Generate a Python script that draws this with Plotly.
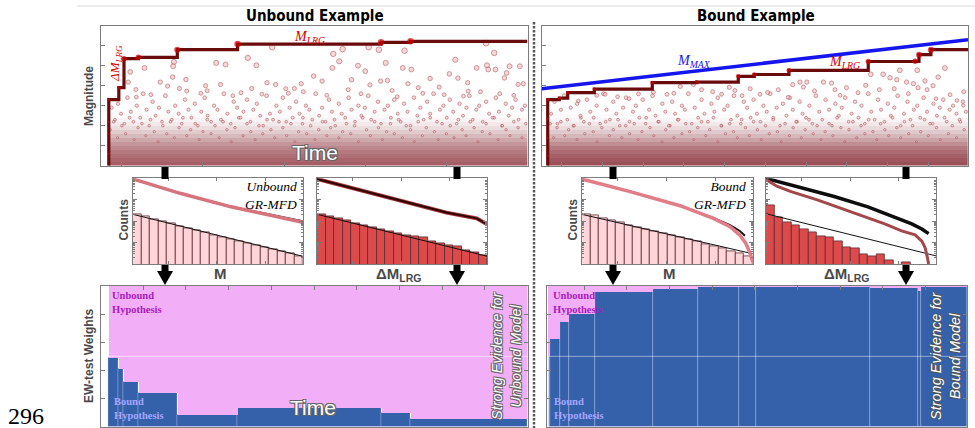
import plotly.graph_objects as go

W, H = 975, 428

# ---------------- catalogue data (time in % of catalogue span, magnitude) ----------------
# Unbound example: record-breaking (largest-so-far) events
unb_rec_t = [1.94, 1.94, 1.94, 1.94, 4.29, 5.5, 8.88, 17.99, 32.1, 65.7, 72.6]
unb_rec_m = [2.6, 3.6, 4.2, 5.3, 5.9, 7.35, 7.42, 7.8, 8.08, 8.17, 8.22]

# Bound example: record-breaking events and the rising magnitude bound
bnd_rec_t = [1.41, 1.41, 1.41, 1.41, 4.13, 6.1, 12.34, 25.94, 36.36, 46.12, 49.87, 58.0, 76.6, 87.6, 88.5, 91.3]
bnd_rec_m = [2.5, 3.4, 4.35, 5.3, 5.38, 5.65, 5.83, 6.15, 6.18, 6.47, 6.56, 6.77, 7.21, 7.22, 7.55, 7.8]
bnd_mmax_t = [0, 100]
bnd_mmax_m = [5.85, 8.3]

# Larger individual events
unb_big_t = [40.2, 56.7, 54.5, 62.8, 65.2, 71.2, 90.3, 92.2, 27.1, 29.3, 34.5, 36.5, 10.3, 17.2, 17.0, 16.9,
             6.95, 6.5, 8.3, 8.4, 14.0, 20.0, 15.7, 18.5, 20.2, 28.1, 32.9, 35.4, 39.0, 41.0, 43.4, 45.4,
             49.9, 51.9, 54.3, 55.9, 60.3, 62.0, 63.1, 65.6, 66.8, 67.2, 68.3, 70.8, 72.8, 72.0, 74.4, 77.2,
             79.3, 81.7, 83.1, 83.7, 86.0, 86.1, 88.1, 90.5, 90.8, 92.5, 94.6, 95.1, 95.8, 98.2, 97.8, 99.0,
             11.8, 23.5, 25.0, 31.0, 37.8, 44.0, 47.5, 53.0, 58.0, 61.0, 69.5, 75.5, 80.5, 85.0, 89.0, 93.5,
             96.8, 24.6, 47.0, 58.8]
unb_big_m = [7.93, 7.83, 7.59, 7.93, 7.8, 7.75, 8.13, 7.64, 7.14, 7.06, 7.39, 7.02, 6.89, 7.19, 6.97, 6.43,
             6.69, 6.18, 5.81, 5.43, 6.18, 6.31, 5.98, 5.86, 5.73, 6.06, 5.65, 5.86, 6.15, 6.06, 5.85, 5.86,
             6.48, 6.23, 6.89, 7.22, 7.0, 6.73, 6.04, 6.23, 7.14, 6.26, 5.76, 6.89, 6.81, 6.1, 5.9, 6.36,
             5.93, 6.59, 7.3, 6.38, 6.15, 5.73, 6.89, 7.02, 6.81, 6.81, 6.39, 6.64, 6.97, 6.97, 6.06, 6.1,
             5.55, 5.62, 5.75, 5.5, 5.58, 5.62, 5.7, 5.52, 5.8, 5.6, 5.45, 5.62, 5.55, 5.48, 5.7, 5.6,
             5.52, 6.0, 6.1, 6.3]

bnd_big_t = [77.2, 80.1, 81.7, 84.0, 88.1, 85.6, 87.2, 88.3, 90.4, 93.0, 94.6, 89.9, 79.2, 82.7, 60.6, 62.2,
             66.1, 68.0, 68.8, 55.5, 61.4, 48.9, 51.2, 45.3, 42.2, 37.5, 35.6, 32.5, 29.4, 26.2, 22.7, 14.9,
             12.9, 8.6, 97.4, 98.9, 17.8, 20.5, 31.0, 40.1, 47.0, 53.0, 57.8, 64.0, 71.5, 74.2, 76.0, 83.3,
             91.8, 95.8, 99.0, 86.0, 92.5, 70.0, 58.9, 44.0]
bnd_big_m = [6.57, 6.57, 6.4, 6.77, 6.77, 6.18, 6.1, 5.9, 5.8, 6.43, 6.88, 6.24, 5.8, 5.85, 6.18, 6.18,
             6.18, 6.13, 5.8, 5.8, 5.93, 5.85, 5.57, 5.76, 5.57, 5.8, 6.07, 5.96, 5.57, 5.68, 5.59, 5.57,
             5.51, 5.24, 5.26, 5.01, 5.45, 5.35, 5.62, 5.7, 5.5, 5.66, 5.42, 5.74, 5.9, 5.65, 6.02, 6.3,
             6.0, 5.55, 5.7, 5.6, 5.35, 5.52, 6.05, 5.92]

# Intermediate events
unb_mid_t = [2.6, 3.4, 4.1, 4.8, 5.6, 6.3, 7.1, 7.7, 8.5, 9.3, 10.0, 10.8, 11.4, 12.2, 12.9, 13.7, 14.4, 15.2,
             15.9, 16.7, 17.5, 18.3, 19.0, 19.8, 20.6, 21.3, 22.1, 22.8, 23.6, 24.4, 25.1, 25.9, 26.6, 27.4,
             28.2, 28.9, 29.7, 30.5, 31.2, 32.0, 32.8, 33.5, 34.3, 35.1, 35.8, 36.6, 37.4, 38.1, 38.9, 39.7,
             40.4, 41.2, 42.0, 42.7, 43.5, 44.3, 45.0, 45.8, 46.6, 47.3, 48.1, 48.9, 49.6, 50.4, 51.2, 51.9,
             52.7, 53.5, 54.2, 55.0, 55.8, 56.5, 57.3, 58.1, 58.8, 59.6, 60.4, 61.1, 61.9, 62.7, 63.4, 64.2,
             65.0, 65.7, 66.5, 67.3, 68.0, 68.8, 69.6, 70.3, 71.1, 71.9, 72.6, 73.4, 74.2, 74.9, 75.7, 76.5,
             77.2, 78.0, 78.8, 79.5, 80.3, 81.1, 81.8, 82.6, 83.4, 84.1, 84.9, 85.7, 86.4, 87.2, 88.0, 88.7,
             89.5, 90.3, 91.0, 91.8, 92.6, 93.3, 94.1, 94.9, 95.6, 96.4, 97.2, 97.9, 98.7, 99.4]
unb_mid_m = [4.9, 4.3, 5.1, 4.6, 4.1, 5.4, 4.7, 4.2, 5.0, 4.4, 5.6, 4.8, 4.0, 5.2, 4.5, 4.9, 4.2, 5.5,
             4.7, 4.3, 5.0, 4.6, 4.1, 5.3, 4.8, 4.4, 5.1, 4.0, 4.7, 5.4, 4.5, 4.2, 5.0, 4.8, 4.3, 5.6,
             4.6, 4.1, 5.2, 4.9, 4.4, 4.7, 5.3, 4.2, 4.8, 5.1, 4.5, 4.0, 5.5, 4.6, 4.3, 5.0, 4.7, 5.4,
             4.2, 4.9, 4.4, 5.2, 4.6, 4.1, 5.0, 4.8, 4.3, 5.6, 4.5, 4.9, 4.2, 5.3, 4.7, 4.0, 5.1, 4.6,
             4.4, 5.4, 4.8, 4.2, 5.0, 4.5, 4.9, 5.5, 4.3, 4.7, 5.2, 4.1, 4.8, 5.0, 4.4, 5.3, 4.6, 4.2,
             5.1, 4.7, 4.0, 5.4, 4.5, 4.9, 4.3, 5.2, 4.6, 5.6, 4.2, 4.8, 5.0, 4.4, 5.3, 4.7, 4.1, 5.1,
             4.5, 4.9, 5.5, 4.3, 4.8, 5.0, 4.2, 5.2, 4.6, 4.4, 5.4, 4.7, 4.0, 5.1, 4.5, 4.9, 5.3, 4.3,
             4.8, 5.0]

bnd_mid_t = [2.2, 3.0, 3.7, 4.5, 5.3, 6.0, 6.8, 7.6, 8.3, 9.1, 9.9, 10.6, 11.4, 12.2, 12.9, 13.7, 14.5, 15.2,
             16.0, 16.8, 17.5, 18.3, 19.1, 19.8, 20.6, 21.4, 22.1, 22.9, 23.7, 24.4, 25.2, 26.0, 26.7, 27.5,
             28.3, 29.0, 29.8, 30.6, 31.3, 32.1, 32.9, 33.6, 34.4, 35.2, 35.9, 36.7, 37.5, 38.2, 39.0, 39.8,
             40.5, 41.3, 42.1, 42.8, 43.6, 44.4, 45.1, 45.9, 46.7, 47.4, 48.2, 49.0, 49.7, 50.5, 51.3, 52.0,
             52.8, 53.6, 54.3, 55.1, 55.9, 56.6, 57.4, 58.2, 58.9, 59.7, 60.5, 61.2, 62.0, 62.8, 63.5, 64.3,
             65.1, 65.8, 66.6, 67.4, 68.1, 68.9, 69.7, 70.4, 71.2, 72.0, 72.7, 73.5, 74.3, 75.0, 75.8, 76.6,
             77.3, 78.1, 78.9, 79.6, 80.4, 81.2, 81.9, 82.7, 83.5, 84.2, 85.0, 85.8, 86.5, 87.3, 88.1, 88.8,
             89.6, 90.4, 91.1, 91.9, 92.7, 93.4, 94.2, 95.0, 95.7, 96.5, 97.3, 98.0, 98.8, 99.5]
bnd_mid_m = [4.6, 5.2, 4.1, 4.8, 5.5, 4.3, 4.9, 4.0, 5.1, 4.5, 4.2, 5.3, 4.7, 4.4, 5.0, 4.1, 5.6, 4.8,
             4.3, 5.2, 4.6, 4.0, 4.9, 5.4, 4.2, 4.7, 5.0, 4.4, 5.3, 4.1, 4.8, 5.5, 4.5, 4.2, 5.1, 4.7,
             4.0, 5.2, 4.6, 4.3, 5.0, 4.8, 5.6, 4.1, 4.9, 4.4, 5.3, 4.6, 4.2, 5.1, 4.7, 5.4, 4.0, 4.8,
             5.0, 4.3, 5.5, 4.5, 4.1, 5.2, 4.9, 4.4, 5.3, 4.6, 4.2, 5.0, 4.7, 5.6, 4.3, 4.9, 4.0, 5.1,
             4.5, 5.4, 4.8, 4.2, 5.2, 4.6, 4.4, 5.0, 4.1, 5.5, 4.7, 4.3, 5.3, 4.8, 4.0, 5.1, 4.5, 4.9,
             5.4, 4.2, 4.6, 5.2, 4.4, 5.0, 4.1, 5.6, 4.7, 4.3, 5.3, 4.8, 4.2, 5.1, 4.5, 4.9, 5.5, 4.0,
             4.6, 5.2, 4.3, 4.8, 5.0, 4.4, 5.4, 4.7, 4.1, 5.1, 4.5, 4.9, 5.3, 4.2, 4.8, 5.0, 4.6, 4.3,
             5.2, 4.7]

# Small events sitting on top of the dense cloud
unb_small_t = [2.3, 3.1, 4.0, 5.0, 5.9, 6.8, 7.9, 8.8, 9.7, 10.6, 11.7, 12.6, 13.5, 14.6, 15.5, 16.4, 17.3,
               18.4, 19.3, 20.2, 21.1, 22.2, 23.1, 24.0, 25.0, 25.9, 26.8, 27.8, 28.7, 29.6, 30.6, 31.5,
               32.4, 33.4, 34.3, 35.2, 36.2, 37.1, 38.0, 39.0, 39.9, 40.8, 41.8, 42.7, 43.6, 44.6, 45.5,
               46.4, 47.4, 48.3, 49.2, 50.2, 51.1, 52.0, 53.0, 53.9, 54.8, 55.8, 56.7, 57.6, 58.6, 59.5,
               60.4, 61.4, 62.3, 63.2, 64.2, 65.1, 66.0, 67.0, 67.9, 68.8, 69.8, 70.7, 71.6, 72.6, 73.5,
               74.4, 75.4, 76.3, 77.2, 78.2, 79.1, 80.0, 81.0, 81.9, 82.8, 83.8, 84.7, 85.6, 86.6, 87.5,
               88.4, 89.4, 90.3, 91.2, 92.2, 93.1, 94.0, 95.0, 95.9, 96.8, 97.8, 98.7, 99.6]
unb_small_m = [3.8, 4.2, 3.4, 4.0, 3.6, 4.4, 3.3, 3.9, 4.1, 3.5, 4.3, 3.7, 3.2, 4.0, 3.6, 4.2, 3.4, 3.9,
               4.4, 3.5, 3.8, 4.1, 3.3, 3.7, 4.3, 3.6, 4.0, 3.4, 4.2, 3.8, 3.2, 3.9, 4.4, 3.5, 4.1, 3.7,
               3.3, 4.0, 3.6, 4.3, 3.8, 3.4, 4.2, 3.9, 3.5, 4.1, 3.2, 3.7, 4.4, 3.6, 4.0, 3.3, 3.8, 4.2,
               3.5, 3.9, 4.3, 3.4, 3.7, 4.1, 3.6, 4.0, 3.2, 4.4, 3.8, 3.5, 4.2, 3.9, 3.3, 3.7, 4.1, 3.6,
               4.3, 3.4, 4.0, 3.8, 3.2, 4.2, 3.5, 3.9, 4.4, 3.7, 3.3, 4.1, 3.6, 4.0, 3.4, 4.3, 3.8, 3.5,
               4.2, 3.9, 3.2, 3.7, 4.1, 3.6, 4.4, 3.3, 4.0, 3.8, 3.5, 4.2, 3.9, 3.4, 4.1]

bnd_small_t = [2.0, 2.8, 3.6, 4.5, 5.4, 6.3, 7.4, 8.3, 9.2, 10.1, 11.2, 12.1, 13.0, 14.1, 15.0, 15.9, 16.8,
               17.9, 18.8, 19.7, 20.6, 21.7, 22.6, 23.5, 24.5, 25.4, 26.3, 27.3, 28.2, 29.1, 30.1, 31.0,
               31.9, 32.9, 33.8, 34.7, 35.7, 36.6, 37.5, 38.5, 39.4, 40.3, 41.3, 42.2, 43.1, 44.1, 45.0,
               45.9, 46.9, 47.8, 48.7, 49.7, 50.6, 51.5, 52.5, 53.4, 54.3, 55.3, 56.2, 57.1, 58.1, 59.0,
               59.9, 60.9, 61.8, 62.7, 63.7, 64.6, 65.5, 66.5, 67.4, 68.3, 69.3, 70.2, 71.1, 72.1, 73.0,
               73.9, 74.9, 75.8, 76.7, 77.7, 78.6, 79.5, 80.5, 81.4, 82.3, 83.3, 84.2, 85.1, 86.1, 87.0,
               87.9, 88.9, 89.8, 90.7, 91.7, 92.6, 93.5, 94.5, 95.4, 96.3, 97.3, 98.2, 99.1]
bnd_small_m = [4.1, 3.4, 3.9, 4.2, 3.5, 3.8, 4.0, 3.3, 4.4, 3.6, 4.1, 3.7, 3.2, 3.9, 4.2, 3.5, 3.8, 4.3,
               3.4, 4.0, 3.6, 4.1, 3.3, 3.7, 4.4, 3.9, 3.5, 4.2, 3.2, 3.8, 4.0, 3.4, 4.3, 3.6, 4.1, 3.7,
               3.3, 3.9, 4.2, 3.5, 3.8, 4.4, 3.2, 4.0, 3.6, 4.1, 3.7, 3.4, 4.3, 3.9, 3.5, 4.2, 3.8, 3.3,
               4.0, 3.6, 4.4, 3.7, 3.2, 4.1, 3.5, 3.9, 4.2, 3.4, 3.8, 4.3, 3.6, 4.0, 3.3, 3.7, 4.1, 3.5,
               4.4, 3.9, 3.2, 3.8, 4.2, 3.4, 4.0, 3.6, 4.3, 3.7, 3.3, 4.1, 3.8, 3.5, 4.4, 3.9, 3.4, 4.2,
               3.6, 4.0, 3.2, 3.7, 4.3, 3.5, 4.1, 3.9, 3.3, 4.4, 3.6, 4.0, 3.4, 4.2, 3.8]

# Density of the dense small-event cloud per magnitude band (fraction of area covered)
cloud_edges = [2.0, 2.2, 2.4, 2.6, 2.8, 3.0, 3.2, 3.4, 3.6, 3.8, 4.0, 4.2, 4.4, 4.6, 4.8, 5.0, 5.2]
unb_cloud = [0.88, 0.86, 0.83, 0.8, 0.76, 0.71, 0.65, 0.58, 0.5, 0.41, 0.32, 0.24, 0.16, 0.1, 0.05, 0.02]
bnd_cloud = [0.92, 0.9, 0.87, 0.84, 0.8, 0.74, 0.67, 0.59, 0.51, 0.42, 0.33, 0.24, 0.16, 0.1, 0.05, 0.02]

# ---------------- frequency-magnitude data (20 bins) ----------------
mfd_bins = [0.5, 1.5, 2.5, 3.5, 4.5, 5.5, 6.5, 7.5, 8.5, 9.5, 10.5, 11.5, 12.5, 13.5, 14.5, 15.5, 16.5, 17.5, 18.5, 19.5]
unb_M_counts = [208, 162, 122, 95, 76, 59, 46, 36, 29, 23, 18, 15, 11.4, 9.2, 7.4, 6.0, 4.8, 3.9, 3.1, 2.4]
unb_dM_counts = [208, 162, 135, 106, 82, 62, 51, 43, 35, 27, 21, 19.6, 17, 11.8, 9.2, 7.7, 6.4, 4.5, 3.5, 2.45]
bnd_M_counts = [208, 178, 136, 106, 88, 66, 53, 42, 34, 28, 22, 17.5, 14, 11, 8.3, 6.8, 5.3, 4.1, 3.1, 2.2]
bnd_dM_counts = [525, 145, 90, 62, 43, 30, 20.5, 17, 11.8, 6.1, 5.6, 2.7, 2.4, 2.7, 1.5, 0, 1.2, 0, 0, 0]

fit_x = [0, 20]
unb_M_fit = [209, 2.3]
unb_dM_fit = [209, 2.3]
bnd_M_fit = [209, 3.0]
bnd_dM_fit = [224, 2.4]

unb_M_cum_x = [0, 5.57, 11.45, 14.98, 17.3, 20]
unb_M_cum_obs = [9330, 1995, 479, 234, 145, 89]
unb_M_cum_gr = [9330, 1995, 479, 245, 170, 100]
unb_dM_cum_x = [0, 7.6, 15.2, 18.75, 20]
unb_dM_cum = [9330, 1549, 251, 135, 71]

bnd_M_cum_x = [0, 5.65, 11.5, 15.4, 17.35, 18.5, 19.2, 19.7, 20]
bnd_M_cum_obs = [9330, 2399, 525, 135, 55, 22.4, 9.1, 3.16, 1.29]
bnd_M_gr_x = [0, 5.65, 11.5, 15.4, 17.35, 18.5, 19.1]
bnd_M_cum_gr = [9330, 2399, 525, 141, 66, 34.7, 20.9]
bnd_dM_gr_x = [0, 4.08, 8.04, 12.0, 15.17, 17.15, 18.34, 19.13]
bnd_dM_cum_gr = [10000, 3548, 1413, 468, 155, 74, 43, 26]
bnd_dM_obs_x = [0, 1.31, 2.89, 6.06, 10.02, 13.98, 15.96, 17.54, 18.34, 18.73, 19.01, 19.13]
bnd_dM_cum_obs = [8913, 4266, 2455, 977, 269, 74, 35, 23, 11.7, 5.6, 1.86, 1.0]

# ---------------- EW-test weights (weight of the bound hypothesis over time) ----------------
unb_w_t = [1.94, 4.29, 5.5, 8.88, 17.99, 32.1, 65.7, 72.6]
unb_w_end = 100
unb_w_bound = [0.49, 0.41, 0.32, 0.24, 0.08, 0.13, 0.10, 0.055]

bnd_w_t = [1.71, 2.11, 4.46, 6.40, 12.67, 26.18, 36.73, 46.35, 50.27, 77.0, 88.34, 89.1]
bnd_w_end = 99.84
bnd_w_bound = [0.5, 0.625, 0.746, 0.80, 0.955, 0.979, 0.995, 0.995, 0.995, 0.986, 0.967, 0.995]


# ---------------- helpers ----------------
def px(x):
    return x / W


def py(y):
    return 1 - y / H


def msize(m):
    return max(1.8, 1.8 + 0.8 * (m - 3))


def rsize(m):
    return max(2.0, min(6.5, 2.5 + 1.3 * (m - 5)))


def step_bars(ts, end):
    edges = ts + [end]
    centers = [(a + b) / 2 for a, b in zip(edges[:-1], edges[1:])]
    widths = [b - a for a, b in zip(edges[:-1], edges[1:])]
    return centers, widths


SANS = "Liberation Sans, Arial, sans-serif"
SERIF = "Liberation Serif, Times New Roman, serif"
NARROW = "Liberation Sans Narrow, DejaVu Sans Condensed, Arial Narrow, sans-serif"
OUTLINE = "1px 1px 0 #666, -1px -1px 0 #666, 1px -1px 0 #666, -1px 1px 0 #666"
PT_FILL = "#f6c5c8"
PT_LINE = "#9c3a42"
CLOUD_SCALE = [[0, "rgba(255,255,255,0)"], [1, "#8a2f38"]]

fig = go.Figure()


# ---------------- top panels: magnitude vs time ----------------
def catalogue(xa, ya, rec_t, rec_m, layers, cloud):
    fig.add_trace(go.Heatmap(x=[rec_t[0], 100], y=cloud_edges, z=[[d] for d in cloud],
                             colorscale=CLOUD_SCALE, zmin=0, zmax=1, showscale=False,
                             hoverinfo="skip", xaxis=xa, yaxis=ya))
    for tt, mm in layers:
        fig.add_trace(go.Scatter(x=tt, y=mm, mode="markers", xaxis=xa, yaxis=ya,
                                 marker=dict(size=[msize(m) for m in mm], color=PT_FILL,
                                             line=dict(color=PT_LINE, width=0.7))))
    fig.add_trace(go.Scatter(x=[rec_t[0]] + rec_t + [100], y=[2.0] + rec_m + [rec_m[-1]],
                             mode="lines", line=dict(color="#6a0b0b", width=3.2, shape="hv"),
                             xaxis=xa, yaxis=ya))
    fig.add_trace(go.Scatter(x=rec_t, y=rec_m, mode="markers", xaxis=xa, yaxis=ya,
                             marker=dict(size=[rsize(m) for m in rec_m], color="#d00000",
                                         line=dict(width=0))))


catalogue("x", "y", unb_rec_t, unb_rec_m,
          [(unb_small_t, unb_small_m), (unb_mid_t, unb_mid_m), (unb_big_t, unb_big_m)], unb_cloud)
catalogue("x2", "y2", bnd_rec_t, bnd_rec_m,
          [(bnd_small_t, bnd_small_m), (bnd_mid_t, bnd_mid_m), (bnd_big_t, bnd_big_m)], bnd_cloud)
fig.add_trace(go.Scatter(x=bnd_mmax_t, y=bnd_mmax_m, mode="lines", line=dict(color="#1515f0", width=3.5),
                         xaxis="x2", yaxis="y2"))


# ---------------- middle panels: frequency-magnitude distributions ----------------
def mfd(xa, ya, counts, fill, fit):
    fig.add_trace(go.Bar(x=mfd_bins, y=counts, width=1, xaxis=xa, yaxis=ya,
                         marker=dict(color=fill, line=dict(color="#5e2a2e", width=0.8))))
    fig.add_trace(go.Scatter(x=fit_x, y=fit, mode="lines", line=dict(color="#111", width=1),
                             xaxis=xa, yaxis=ya))


mfd("x3", "y3", unb_M_counts, "#ffd5d9", unb_M_fit)
fig.add_trace(go.Scatter(x=unb_M_cum_x, y=unb_M_cum_gr, mode="lines", line=dict(color="#1a1a1a", width=2),
                         xaxis="x3", yaxis="y3"))
fig.add_trace(go.Scatter(x=unb_M_cum_x, y=unb_M_cum_obs, mode="lines", line=dict(color="#d6737d", width=3.5),
                         xaxis="x3", yaxis="y3"))

mfd("x4", "y4", unb_dM_counts, "#dc4a4c", unb_dM_fit)
fig.add_trace(go.Scatter(x=unb_dM_cum_x, y=unb_dM_cum, mode="lines", line=dict(color="#a83030", width=4),
                         xaxis="x4", yaxis="y4"))
fig.add_trace(go.Scatter(x=unb_dM_cum_x, y=unb_dM_cum, mode="lines", line=dict(color="#2b0404", width=2),
                         xaxis="x4", yaxis="y4"))

mfd("x5", "y5", bnd_M_counts, "#ffd5d9", bnd_M_fit)
fig.add_trace(go.Scatter(x=bnd_M_gr_x, y=bnd_M_cum_gr, mode="lines", line=dict(color="#1a1a1a", width=2),
                         xaxis="x5", yaxis="y5"))
fig.add_trace(go.Scatter(x=bnd_M_cum_x, y=bnd_M_cum_obs, mode="lines", line=dict(color="#e27d88", width=3.5),
                         xaxis="x5", yaxis="y5"))

mfd("x6", "y6", bnd_dM_counts, "#dc4a4c", bnd_dM_fit)
fig.add_trace(go.Scatter(x=bnd_dM_gr_x, y=bnd_dM_cum_gr, mode="lines", line=dict(color="#0d0d0d", width=3.5),
                         xaxis="x6", yaxis="y6"))
fig.add_trace(go.Scatter(x=bnd_dM_obs_x, y=bnd_dM_cum_obs, mode="lines", line=dict(color="#a3474a", width=3),
                         xaxis="x6", yaxis="y6"))


# ---------------- bottom panels: EW-test weights ----------------
def weights(xa, ya, ts, end, w):
    cx, wd = step_bars(ts, end)
    fig.add_trace(go.Bar(x=cx, y=w, base=0, width=wd, xaxis=xa, yaxis=ya,
                         marker=dict(color="#3461a9", line=dict(color="rgba(200,210,255,0.3)", width=1))))
    fig.add_trace(go.Bar(x=cx, y=[1 - v for v in w], base=w, width=wd, xaxis=xa, yaxis=ya,
                         marker=dict(color="#f3aef8", line=dict(width=0))))


weights("x7", "y7", unb_w_t, unb_w_end, unb_w_bound)
weights("x8", "y8", bnd_w_t, bnd_w_end, bnd_w_bound)

# ---------------- axes ----------------
frame = dict(showgrid=False, zeroline=False, showticklabels=False, showline=True, linecolor="#7d7d7d",
             linewidth=1, ticks="inside", tickcolor="#7d7d7d", tickwidth=1)
top_y = [py(165.7), py(25.7)]
mid_y = [py(264), py(178.3)]
bot_y = [py(426.7), py(286)]
log_minor = [2, 3, 4, 5, 6, 7, 8, 9, 20, 30, 40, 50, 60, 70, 80, 90, 200, 300, 400, 500, 600, 700, 800, 900,
             2000, 3000, 4000, 5000, 6000, 7000, 8000, 9000]


def hist_axes(n, x0, x1):
    return {
        f"xaxis{n}": dict(domain=[px(x0), px(x1)], range=[0, 20], anchor=f"y{n}", tickvals=[4.2, 9.9, 15.6],
                          ticklen=3, mirror="ticks", **frame),
        f"yaxis{n}": dict(domain=mid_y, type="log", range=[0, 4], anchor=f"x{n}", tickvals=[10, 100, 1000],
                          ticklen=4, mirror="ticks",
                          minor=dict(tickmode="array", tickvals=log_minor, ticks="inside", ticklen=2,
                                     tickcolor="#7d7d7d"), **frame),
    }


layout_axes = dict(
    xaxis=dict(domain=[px(100.5), px(527.5)], range=[0, 100], anchor="y", tick0=5, dtick=19, ticklen=4,
               mirror=True, **frame),
    yaxis=dict(domain=top_y, range=[2, 9], anchor="x", tickvals=[3, 4, 5, 6, 7, 8], ticklen=4,
               mirror=True, **frame),
    xaxis2=dict(domain=[px(541.7), px(968)], range=[0, 100], anchor="y2", tick0=4.7, dtick=9.55, ticklen=4,
                mirror=True, **frame),
    yaxis2=dict(domain=top_y, range=[2, 9], anchor="x2", tickvals=[3, 4, 5, 6, 7, 8], ticklen=4,
                mirror=True, **frame),
    xaxis7=dict(domain=[px(100.5), px(527.5)], range=[0, 100], anchor="y7", side="top",
                tickvals=[10, 20, 30, 40, 50, 60, 70, 80, 90], ticklen=4, mirror=True, **frame),
    yaxis7=dict(domain=bot_y, range=[0, 1], anchor="x7", tickvals=[0.2, 0.4, 0.6, 0.8], ticklen=4,
                mirror="ticks", **frame),
    xaxis8=dict(domain=[px(547.3), px(967.3)], range=[1.31, 99.84], anchor="y8", side="top",
                tickvals=[10, 20, 30, 40, 50, 60, 70, 80, 90], ticklen=4, mirror=True, **frame),
    yaxis8=dict(domain=bot_y, range=[0, 1], anchor="x8", tickvals=[0.2, 0.4, 0.6, 0.8], ticklen=4,
                mirror="ticks", **frame),
)
layout_axes.update(hist_axes(3, 132.7, 302.7))
layout_axes.update(hist_axes(4, 317, 487.3))
layout_axes.update(hist_axes(5, 581.7, 752.7))
layout_axes.update(hist_axes(6, 765.7, 936))

# ---------------- shapes: separators and flow arrows ----------------
shapes = [
    dict(type="line", xref="paper", yref="paper", x0=px(77), x1=px(975), y0=py(6), y1=py(6),
         line=dict(color="#ececec", width=2)),
    dict(type="line", xref="paper", yref="paper", x0=px(534), x1=px(534), y0=py(22), y1=py(428),
         line=dict(color="#5a5a5a", width=2.5, dash="2.5px,1.5px")),
    dict(type="line", xref="x7 domain", yref="y7", x0=0, x1=1, y0=0.5, y1=0.5,
         line=dict(color="rgba(255,255,255,0.55)", width=1)),
    dict(type="line", xref="x8 domain", yref="y8", x0=0, x1=1, y0=0.5, y1=0.5,
         line=dict(color="rgba(255,255,255,0.45)", width=1)),
]
for cx in (165, 457, 613, 906):
    shapes.append(dict(type="rect", xref="paper", yref="paper", x0=px(cx - 3.5), x1=px(cx + 3.5),
                       y0=py(179), y1=py(167), fillcolor="#000", line=dict(width=0)))
    shapes.append(dict(type="rect", xref="paper", yref="paper", x0=px(cx - 3.5), x1=px(cx + 3.5),
                       y0=py(272), y1=py(265), fillcolor="#000", line=dict(width=0)))
    shapes.append(dict(type="path", xref="paper", yref="paper",
                       path=f"M {px(cx - 8)} {py(271)} L {px(cx + 8)} {py(271)} L {px(cx)} {py(285)} Z",
                       fillcolor="#000", line=dict(width=0)))


# ---------------- text ----------------
def note(x, y, text, size, color="#000", family=SANS, weight="normal", style="normal", angle=0,
         xanchor="center", align="center", shadow=None):
    f = dict(size=size, color=color, family=family, weight=weight, style=style)
    if shadow:
        f["shadow"] = shadow
    return dict(x=px(x), y=py(y), xref="paper", yref="paper", text=text, showarrow=False, font=f,
                textangle=angle, xanchor=xanchor, yanchor="middle", align=align)


ann = [
    note(315, 16, "Unbound Example", 15, family=NARROW, weight="bold"),
    note(756, 16, "Bound Example", 15, family=NARROW, weight="bold"),
    note(89, 96, "Magnitude", 12, color="#4a4a4a", weight="bold", angle=-90),
    note(123.5, 220, "Counts", 12, color="#4a4a4a", weight="bold", angle=-90),
    note(572.5, 220, "Counts", 12, color="#4a4a4a", weight="bold", angle=-90),
    note(89, 356, "EW-test Weights", 12, color="#4a4a4a", weight="bold", angle=-90),
    note(220, 273, "M", 15, color="#4a4a4a", weight="bold"),
    note(669, 273, "M", 15, color="#4a4a4a", weight="bold"),
    note(398, 274, "ΔM<sub>LRG</sub>", 15, color="#4a4a4a", weight="bold"),
    note(846, 274, "ΔM<sub>LRG</sub>", 15, color="#4a4a4a", weight="bold"),
    note(309, 38, "M<sub>LRG</sub>", 14, color="#d40000", family=SERIF, style="italic"),
    note(844, 63, "M<sub>LRG</sub>", 14, color="#d40000", family=SERIF, style="italic"),
    note(694, 61, "M<sub>MAX</sub>", 14, color="#1515f0", family=SERIF, style="italic"),
    note(115, 64, "ΔM<sub>LRG</sub>", 13, color="#d40000", family=SERIF, style="italic", angle=-90),
    note(315, 153, "Time", 21, color="#fff", shadow=OUTLINE),
    note(313, 407, "Time", 21, color="#fff", shadow=OUTLINE),
    note(299, 195.5, "Unbound<br>GR-MFD", 13.5, family=SERIF, style="italic", xanchor="right", align="right"),
    note(748, 195.5, "Bound<br>GR-MFD", 13.5, family=SERIF, style="italic", xanchor="right", align="right"),
    note(110, 302, "Unbound<br>Hypothesis", 10.5, color="#a81cb8", family=SERIF, weight="bold",
         xanchor="left", align="left"),
    note(551, 302, "Unbound<br>Hypothesis", 10.5, color="#a81cb8", family=SERIF, weight="bold",
         xanchor="left", align="left"),
    note(112, 408.5, "Bound<br>Hypothesis", 10.5, color="#a6a6ff", family=SERIF, weight="bold",
         xanchor="left", align="left"),
    note(552, 408.5, "Bound<br>Hypothesis", 10.5, color="#a6a6ff", family=SERIF, weight="bold",
         xanchor="left", align="left"),
    note(506, 356, "Strong Evidence for<br>Unbound Model", 14.5, color="#fff", style="italic", angle=-90,
         shadow=OUTLINE),
    note(945, 356, "Strong Evidence for<br>Bound Model", 14.5, color="#fff", style="italic", angle=-90,
         shadow="1px 1px 0 #555, -1px -1px 0 #555"),
    dict(x=px(6), y=py(401), xref="paper", yref="paper", text="296", showarrow=False,
         font=dict(size=24, color="#000", family=SERIF), xanchor="left", yanchor="top"),
]

fig.update_layout(
    width=W, height=H, margin=dict(l=0, r=0, t=0, b=0), paper_bgcolor="#fff", plot_bgcolor="#fff",
    showlegend=False, barmode="overlay", bargap=0, shapes=shapes, annotations=ann, **layout_axes,
)

fig.write_html("out.html")
